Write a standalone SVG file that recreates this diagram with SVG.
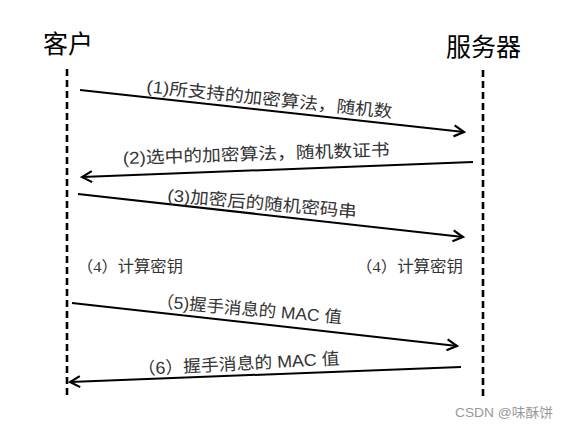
<svg xmlns="http://www.w3.org/2000/svg" width="569" height="428" viewBox="0 0 569 428">
<style>
.title{font-family:"Noto Sans CJK SC","Liberation Serif",serif;font-size:25px;fill:#000}
.lbl{font-family:"Liberation Sans","Noto Sans CJK SC",sans-serif;font-size:17px;fill:#333}
.key{font-family:"Liberation Serif","Noto Sans CJK SC",serif;font-size:15.5px;fill:#333}
.life{stroke:#000;stroke-width:2.6;stroke-dasharray:7 4;fill:none}
.msg{stroke:#000;stroke-width:2;fill:none;marker-end:url(#arr)}
.wm{font-family:"Liberation Sans","Noto Sans CJK SC",sans-serif;font-size:13px;fill:#999}
</style>
<defs>
<marker id="arr" markerUnits="userSpaceOnUse" markerWidth="14" markerHeight="14" viewBox="0 0 14 14" refX="12" refY="7" orient="auto">
<path d="M2,1.5 L12,7 L2,12.5" fill="none" stroke="#000" stroke-width="2.2"/>
</marker>
</defs>
<rect width="569" height="428" fill="#fff"/>
<g id="client">
<text class="title" x="43" y="53">客户</text>
<line class="life" x1="67" y1="69" x2="67" y2="398"/>
</g>
<g id="server">
<text class="title" x="446" y="56">服务器</text>
<line class="life" x1="483" y1="70" x2="483" y2="400"/>
</g>
<g id="connectors">
<line class="msg" x1="80" y1="90" x2="464" y2="132"/>
<line class="msg" x1="473" y1="162" x2="82" y2="177"/>
<line class="msg" x1="78" y1="194" x2="463" y2="237"/>
<line class="msg" x1="72" y1="303" x2="457" y2="346"/>
<line class="msg" x1="461" y1="367" x2="70" y2="382"/>
</g>
<g id="labels">
<text class="lbl" x="146" y="92" textLength="247" lengthAdjust="spacingAndGlyphs" transform="rotate(6 146 92)">(1)所支持的加密算法，随机数</text>
<text class="lbl" x="123" y="164" textLength="267" lengthAdjust="spacingAndGlyphs" transform="rotate(-1.8 123 164)">(2)选中的加密算法，随机数证书</text>
<text class="lbl" x="167" y="201" textLength="190" lengthAdjust="spacingAndGlyphs" transform="rotate(5 167 201)">(3)加密后的随机密码串</text>
<text class="key" x="77" y="272" textLength="106" lengthAdjust="spacingAndGlyphs">（4）计算密钥</text>
<text class="key" x="356" y="272" textLength="107" lengthAdjust="spacingAndGlyphs">（4）计算密钥</text>
<text class="lbl" x="156" y="307" textLength="186" lengthAdjust="spacingAndGlyphs" transform="rotate(5 156 307)">（5)握手消息的 MAC 值</text>
<text class="lbl" x="138" y="375" textLength="202" lengthAdjust="spacingAndGlyphs" transform="rotate(-3 138 375)">（6）握手消息的 MAC 值</text>
</g>
<text class="wm" x="455" y="417" textLength="98" lengthAdjust="spacingAndGlyphs">CSDN @味酥饼</text>
</svg>
